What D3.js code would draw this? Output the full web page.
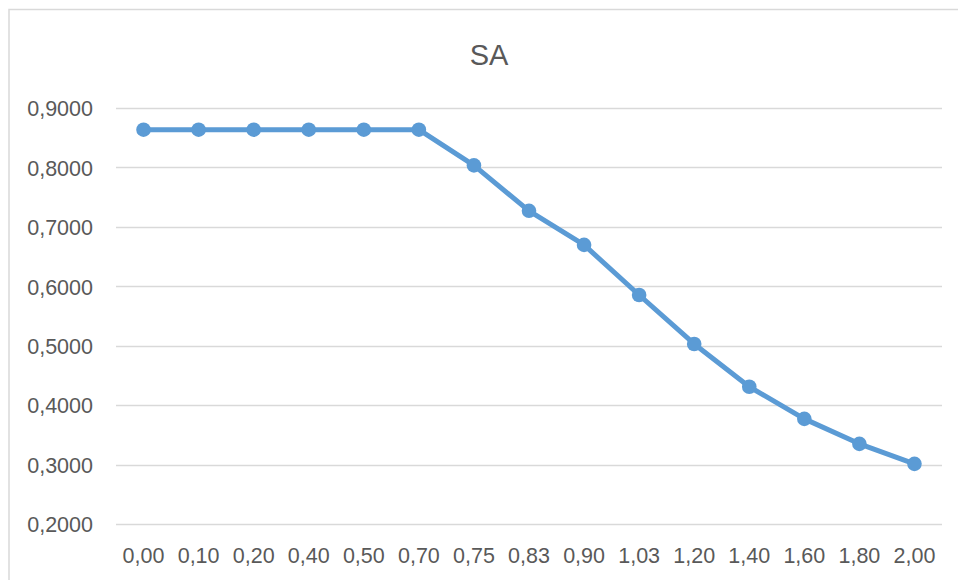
<!DOCTYPE html>
<html><head><meta charset="utf-8">
<script src="https://cdn.jsdelivr.net/npm/d3@7"></script>
<style>html,body{margin:0;padding:0;background:#fff;}</style>
</head><body>
<svg id="chart" width="958" height="580"></svg>
<script>
const title = "SA";
const categories = ["0,00","0,10","0,20","0,40","0,50","0,70","0,75","0,83","0,90","1,03","1,20","1,40","1,60","1,80","2,00"];
const values = [0.8635,0.8635,0.8635,0.8635,0.8635,0.8635,0.8034,0.727,0.6696,0.5853,0.5029,0.4309,0.3769,0.3349,0.3012];
const yTicks = [0.2,0.3,0.4,0.5,0.6,0.7,0.8,0.9];

const svg = d3.select("#chart");
const font = "'Liberation Sans', Arial, sans-serif";
const textColor = "#595959";

svg.append("rect").attr("x",9).attr("y",9.5).attr("width",970).attr("height",600)
  .attr("fill","#fff").attr("stroke","#d9d9d9").attr("stroke-width",1.5);

const x = d3.scaleBand().domain(categories).range([116,942]);
const y = d3.scaleLinear().domain([0.2,0.9]).range([524,108]);

// gridlines
svg.append("g").selectAll("line").data(yTicks).join("line")
  .attr("x1",116).attr("x2",942)
  .attr("y1",d=>Math.round(y(d))+0.5).attr("y2",d=>Math.round(y(d))+0.5)
  .attr("stroke","#d9d9d9").attr("stroke-width",1.5);

// y axis
const fmt = d => d3.format(".4f")(d).replace(".",",");
const yAxis = d3.axisLeft(y).tickValues(yTicks).tickFormat(fmt).tickSize(0).tickPadding(23);
const yg = svg.append("g").attr("transform","translate(116,0)").call(yAxis);
yg.select(".domain").remove();
yg.selectAll("text").attr("fill",textColor).attr("dy","0.36em").style("font-family",font).style("font-size","21.5px");

// x axis
const xAxis = d3.axisBottom(x).tickSize(0).tickPadding(0);
const xg = svg.append("g").attr("transform","translate(0,524)").call(xAxis);
xg.select(".domain").remove();
xg.selectAll("text").attr("fill",textColor).attr("dy",null).attr("y",39).style("font-family",font).style("font-size","21.5px");

// line
const cx = d => x(d) + x.bandwidth()/2;
const line = d3.line().x((d,i)=>cx(categories[i])).y(d=>y(d));
svg.append("path").datum(values).attr("d",line)
  .attr("fill","none").attr("stroke","#5B9BD5").attr("stroke-width",5)
  .attr("stroke-linejoin","round").attr("stroke-linecap","round");

svg.append("g").selectAll("circle").data(values).join("circle")
  .attr("cx",(d,i)=>cx(categories[i])).attr("cy",d=>y(d)).attr("r",7.3)
  .attr("fill","#5B9BD5");

// title
svg.append("text").attr("x",489).attr("y",65).attr("text-anchor","middle")
  .attr("fill",textColor).style("font-family",font).style("font-size","29px").text(title);
</script>
</body></html>
